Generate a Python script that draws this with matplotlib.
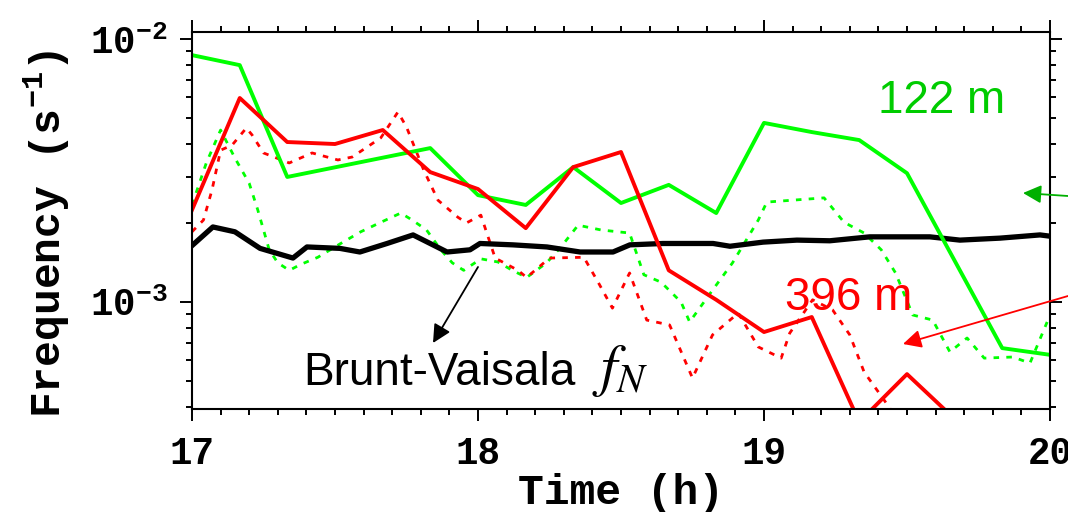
import numpy as np
import matplotlib
matplotlib.use("Agg")
import matplotlib.pyplot as plt
from matplotlib.ticker import MultipleLocator, LogLocator, NullFormatter, FixedLocator

plt.rcParams['mathtext.fontset'] = 'stix'

# 122 m, solid (green)
t_g = [17.0, 17.167, 17.333, 17.833, 18.0, 18.167, 18.333, 18.5, 18.667, 18.833,
       19.0, 19.167, 19.333, 19.5, 19.833, 20.0]
f_g = [8.69e-3, 7.96e-3, 2.99e-3, 3.85e-3, 2.55e-3, 2.34e-3, 3.26e-3, 2.38e-3, 2.79e-3, 2.18e-3,
       4.80e-3, 4.43e-3, 4.13e-3, 3.09e-3, 6.68e-4, 6.30e-4]

# 396 m, solid (red)
t_r = [17.0, 17.167, 17.333, 17.5, 17.667, 17.833, 18.0, 18.167, 18.333, 18.5, 18.667,
       18.833, 19.0, 19.167, 19.333, 19.5, 19.667]
f_r = [2.24e-3, 5.97e-3, 4.06e-3, 3.99e-3, 4.51e-3, 3.12e-3, 2.69e-3, 1.91e-3, 3.26e-3, 3.72e-3, 1.32e-3,
       1.02e-3, 7.69e-4, 8.77e-4, 3.5e-4, 5.32e-4, 3.59e-4]

# 122 m, dotted (green)
t_gd = [17.00, 17.05, 17.10, 17.15, 17.20, 17.23, 17.27, 17.30, 17.34, 17.38, 17.44, 17.52,
        17.59, 17.66, 17.73, 17.77, 17.82, 17.87, 17.91, 17.95, 18.01, 18.07, 18.12, 18.17,
        18.24, 18.29, 18.35, 18.43, 18.53, 18.58, 18.64, 18.71, 18.74, 18.82, 18.89, 18.98,
        19.01, 19.10, 19.21, 19.28, 19.35, 19.41, 19.46, 19.52, 19.59, 19.65, 19.71, 19.77,
        19.87, 19.93, 19.99]
f_gd = [2.34e-3, 3.38e-3, 4.51e-3, 3.53e-3, 2.83e-3, 2.24e-3, 1.58e-3, 1.41e-3, 1.32e-3, 1.39e-3,
        1.48e-3, 1.67e-3, 1.85e-3, 2.01e-3, 2.18e-3, 2.05e-3, 1.88e-3, 1.58e-3, 1.41e-3, 1.32e-3,
        1.46e-3, 1.42e-3, 1.32e-3, 1.24e-3, 1.41e-3, 1.62e-3, 1.96e-3, 1.88e-3, 1.83e-3, 1.27e-3,
        1.19e-3, 1.00e-3, 8.40e-4, 1.11e-3, 1.41e-3, 2.05e-3, 2.40e-3, 2.44e-3, 2.49e-3, 2.01e-3,
        1.83e-3, 1.58e-3, 1.29e-3, 8.93e-4, 8.54e-4, 6.46e-4, 7.30e-4, 6.12e-4, 6.18e-4, 5.86e-4,
        8.40e-4]

# 396 m, dotted (red)
t_rd = [17.00, 17.04, 17.07, 17.10, 17.14, 17.19, 17.21, 17.25, 17.34, 17.42, 17.51, 17.56,
        17.66, 17.72, 17.75, 17.81, 17.86, 17.93, 17.96, 18.01, 18.06, 18.14, 18.17, 18.25,
        18.37, 18.42, 18.47, 18.53, 18.59, 18.67, 18.75, 18.82, 18.91, 18.98, 19.06, 19.09,
        19.17, 19.24, 19.30, 19.35, 19.42, 19.48]
f_rd = [1.85e-3, 2.05e-3, 2.67e-3, 3.78e-3, 3.95e-3, 4.59e-3, 4.32e-3, 3.69e-3, 3.38e-3, 3.69e-3,
        3.47e-3, 3.56e-3, 4.21e-3, 5.28e-3, 4.63e-3, 3.18e-3, 2.44e-3, 2.10e-3, 2.00e-3, 2.14e-3,
        1.47e-3, 1.32e-3, 1.24e-3, 1.47e-3, 1.48e-3, 1.19e-3, 9.48e-4, 1.29e-3, 8.54e-4, 8.18e-4,
        5.14e-4, 7.50e-4, 9.08e-4, 6.75e-4, 6.12e-4, 7.62e-4, 1.02e-3, 9.33e-4, 7.50e-4, 5.42e-4,
        4.24e-4, 3.40e-4]

# Brunt-Vaisala frequency (black)
t_bv = [17.003, 17.073, 17.15, 17.238, 17.353, 17.402, 17.517, 17.587, 17.682, 17.773, 17.892,
        17.972, 18.007, 18.122, 18.241, 18.357, 18.472, 18.531, 18.647, 18.822, 18.881, 18.997,
        19.115, 19.23, 19.37, 19.58, 19.685, 19.825, 19.965, 20.0]
f_bv = [1.65e-3, 1.93e-3, 1.85e-3, 1.60e-3, 1.47e-3, 1.62e-3, 1.60e-3, 1.55e-3, 1.67e-3, 1.80e-3, 1.55e-3,
        1.58e-3, 1.67e-3, 1.65e-3, 1.62e-3, 1.55e-3, 1.55e-3, 1.65e-3, 1.67e-3, 1.67e-3, 1.63e-3, 1.69e-3,
        1.72e-3, 1.71e-3, 1.77e-3, 1.77e-3, 1.72e-3, 1.75e-3, 1.80e-3, 1.78e-3]

W, H = 1068, 512
fig = plt.figure(figsize=(W / 100, H / 100), dpi=100)
ax = fig.add_axes([192 / W, 1 - 409 / H, (1050 - 192) / W, (409 - 32) / H])

lime = '#00ff00'
ax.plot(t_gd, f_gd, color=lime, lw=2, linestyle=(0, (2, 2.6)))
ax.plot(t_rd, f_rd, color='#ff0000', lw=2, linestyle=(0, (2, 2.6)))
ax.plot(t_bv, f_bv, color='black', lw=3.8)
ax.plot(t_g, f_g, color=lime, lw=2.8)
ax.plot(t_r, f_r, color='#ff0000', lw=2.8)

ax.set_yscale('log')
ax.set_xlim(17, 20)
ax.set_ylim(3.92e-4, 1.064e-2)

ax.xaxis.set_major_locator(FixedLocator([17, 18, 19, 20]))
ax.xaxis.set_minor_locator(MultipleLocator(0.1))
ax.yaxis.set_major_locator(LogLocator(base=10))
ax.yaxis.set_minor_locator(LogLocator(base=10, subs=np.arange(2, 10)))
ax.yaxis.set_minor_formatter(NullFormatter())

tick_font = dict(family='Liberation Mono', weight='bold', size=27)
for spine in ax.spines.values():
    spine.set_linewidth(1.5)
ax.tick_params(which='both', direction='out', top=True, right=True, width=1.4)
ax.tick_params(which='major', length=8.5, pad=9)
ax.tick_params(which='minor', length=4.5)
for lab in ax.get_xticklabels() + ax.get_yticklabels():
    lab.set_fontproperties(tick_font)
ax.tick_params(axis='x', pad=11)

label_font = dict(family='Liberation Mono', weight='bold', size=31)
ax.set_xlabel('Time (h)', **label_font)
ax.set_ylabel('Frequency ($\\mathdefault{s^{-1}}$)', **label_font)
ax.xaxis.set_label_coords(0.5, -0.17)
ax.yaxis.set_label_coords(-0.14, 0.464)

txt = dict(family='Liberation Sans', size=33, va='baseline', ha='left')
fig.text(878 / W, 1 - 113 / H, '122 m', color='#00cc00', **txt)
fig.text(785 / W, 1 - 310 / H, '396 m', color='#ff0000', **txt)
fig.text(303 / W, 1 - 385 / H, 'Brunt-Vaisala', color='black', **txt)
fig.text(592 / W, 1 - 385 / H, '$f_N$', color='black', family='Liberation Sans', size=42,
         va='baseline', ha='left')

def arrow(tip, tail, color):
    ax.annotate('', xy=(tip[0] / W, 1 - tip[1] / H), xytext=(tail[0] / W, 1 - tail[1] / H),
                xycoords='figure fraction', textcoords='figure fraction',
                arrowprops=dict(arrowstyle='-|>,head_length=0.5,head_width=0.25', color=color,
                                lw=1.3, mutation_scale=22, shrinkA=0, shrinkB=0),
                annotation_clip=False)

arrow((1023, 193), (1068, 196), '#00b000')
arrow((903, 344), (1068, 296), '#ff0000')
arrow((433, 343), (478, 267), 'black')

fig.savefig('out.png', dpi=100)
